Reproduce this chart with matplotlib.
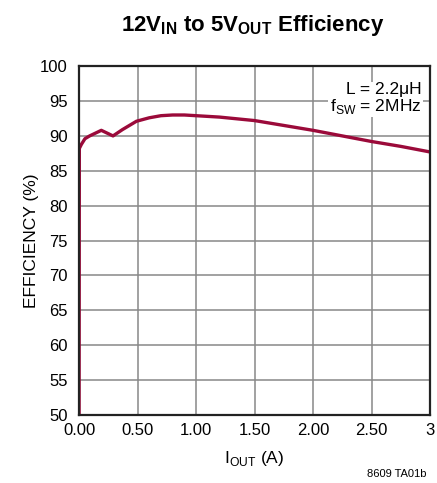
import matplotlib
matplotlib.use('Agg')
from matplotlib import pyplot as plt

plt.rcParams['font.family'] = ['Liberation Sans', 'DejaVu Sans']

# efficiency curve
iout = [0.0, 0.002, 0.02, 0.05, 0.09, 0.14, 0.19, 0.24, 0.29, 0.37, 0.49, 0.6, 0.7, 0.8, 0.9,
        1.0, 1.2, 1.5, 1.75, 2.0, 2.25, 2.5, 2.75, 3.0]
eff = [50.0, 88.2, 88.8, 89.6, 90.0, 90.4, 90.8, 90.4, 90.0, 90.9, 92.1, 92.6, 92.9, 93.0, 93.0,
       92.9, 92.7, 92.2, 91.5, 90.8, 90.0, 89.2, 88.5, 87.7]

xticks = [0, 0.5, 1.0, 1.5, 2.0, 2.5, 3.0]
xlabels = ['0.00', '0.50', '1.00', '1.50', '2.00', '2.50', '3']
yticks = list(range(50, 101, 5))

fig = plt.figure(figsize=(4.37, 4.83), dpi=100)
ax = fig.add_axes([0.181, 0.141, 0.803, 0.722])

ax.plot(iout, eff, color='#9b0a3a', lw=2.4, solid_capstyle='butt')

ax.set_xlim(0, 3)
ax.set_ylim(50, 100)
ax.set_xticks(xticks)
ax.set_xticklabels(xlabels)
ax.set_yticks(yticks)
ax.tick_params(length=0, labelsize=12)
ax.tick_params(axis='y', pad=8)
ax.tick_params(axis='x', pad=6)
ax.grid(True, color='#888888', lw=1.1)
for s in ax.spines.values():
    s.set_linewidth(1.6)
    s.set_color('#222222')

ax.set_xlabel(r'I$_{\mathregular{OUT}}$ (A)', fontsize=12.5, labelpad=8)
ax.set_ylabel('EFFICIENCY (%)', fontsize=12.5, labelpad=1)

ax.text(0.975, 0.955, 'L = 2.2\u03bcH\nf$_{\\mathregular{SW}}$ = 2MHz', transform=ax.transAxes,
        ha='right', va='top', fontsize=12.5, linespacing=1.0,
        bbox=dict(facecolor='white', edgecolor='none', pad=1))

fig.text(0.578, 0.947, r'12V$_{\mathregular{IN}}$ to 5V$_{\mathregular{OUT}}$ Efficiency',
         ha='center', va='center', fontsize=16, fontweight='bold')
fig.text(0.975, 0.018, '8609 TA01b', ha='right', va='center', fontsize=8)

plt.savefig('out.png', dpi=100)
